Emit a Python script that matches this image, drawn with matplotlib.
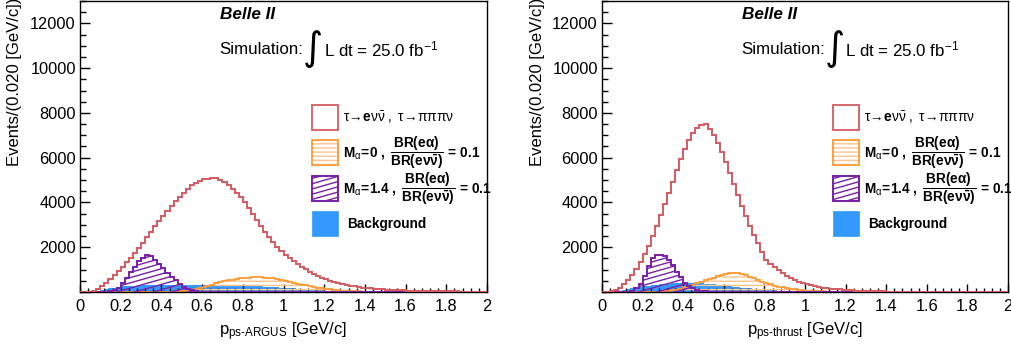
import numpy as np
import matplotlib
matplotlib.use('Agg')
import matplotlib.pyplot as plt
from matplotlib.patches import Rectangle
from matplotlib.ticker import MultipleLocator, FuncFormatter

plt.rcParams['font.family'] = ['Liberation Sans', 'DejaVu Sans']
plt.rcParams['mathtext.fontset'] = 'custom'
plt.rcParams['mathtext.rm'] = 'Liberation Sans'
plt.rcParams['mathtext.it'] = 'Liberation Sans:italic'
plt.rcParams['mathtext.bf'] = 'Liberation Sans:bold'
plt.rcParams['hatch.linewidth'] = 1.0

# бины по 0.020 GeV/c от 0 до 2
edges = np.linspace(0, 2, 101)

# левая панель: p_ps-ARGUS
sig_argus = [0, 5, 20, 60, 150, 270, 420, 580, 750, 930,
             1120, 1320, 1530, 1750, 1980, 2210, 2450, 2690, 2930, 3170,
             3400, 3620, 3840, 4050, 4250, 4440, 4610, 4760, 4880, 4970,
             5030, 5070, 5100, 5080, 5020, 4920, 4780, 4620, 4440, 4230,
             4000, 3760, 3500, 3230, 2960, 2700, 2450, 2220, 2000, 1810,
             1650, 1500, 1370, 1250, 1130, 1010, 900, 800, 710, 630,
             560, 500, 440, 395, 355, 315, 280, 250, 225, 200,
             180, 160, 145, 130, 118, 106, 95, 85, 76, 68,
             62, 57, 52, 48, 44, 40, 37, 34, 31, 29,
             27, 25, 23, 21, 20, 18, 17, 16, 15, 14]
a0_argus = [0, 0, 0, 0, 0, 0, 0, 0, 0, 0,
            0, 0, 0, 0, 0, 0, 0, 0, 2, 4,
            6, 8, 10, 20, 35, 55, 80, 110, 145, 185,
            230, 280, 330, 380, 430, 475, 515, 550, 580, 605,
            625, 640, 650, 655, 655, 645, 630, 605, 575, 540,
            500, 460, 420, 375, 335, 295, 255, 220, 190, 160,
            135, 112, 93, 77, 63, 52, 42, 34, 27, 22,
            17, 13, 10, 8, 6, 5, 4, 3, 2, 2,
            0, 0, 0, 0, 0, 0, 0, 0, 0, 0,
            0, 0, 0, 0, 0, 0, 0, 0, 0, 0]
a14_argus = [0, 0, 0, 0, 0, 0, 10, 30, 80, 180,
             380, 620, 880, 1130, 1370, 1540, 1650, 1620, 1450, 1250,
             1050, 860, 680, 520, 370, 230, 130, 70, 40, 20,
             10, 6, 4, 3, 2, 1, 0, 0, 0, 0,
             0, 0, 0, 0, 0, 0, 0, 0, 0, 0,
             0, 0, 0, 0, 0, 0, 0, 0, 0, 0,
             0, 0, 0, 0, 0, 0, 0, 0, 0, 0,
             0, 0, 0, 0, 0, 0, 0, 0, 0, 0,
             0, 0, 0, 0, 0, 0, 0, 0, 0, 0,
             0, 0, 0, 0, 0, 0, 0, 0, 0, 0]
bkg_argus = [0, 0, 5, 20, 50, 90, 130, 170, 200, 230,
             250, 265, 280, 290, 300, 305, 310, 312, 315, 315,
             315, 315, 315, 315, 315, 315, 318, 320, 320, 320,
             320, 318, 315, 312, 310, 308, 305, 300, 295, 290,
             285, 278, 270, 262, 252, 242, 232, 220, 208, 195,
             182, 170, 158, 145, 132, 120, 108, 96, 85, 75,
             66, 57, 50, 43, 37, 32, 27, 23, 20, 17,
             14, 12, 10, 8, 7, 6, 5, 4, 3, 3,
             2, 2, 2, 2, 2, 2, 2, 2, 2, 2,
             2, 2, 2, 1, 1, 1, 1, 1, 1, 1]

# правая панель: p_ps-thrust
sig_thrust = [0, 10, 40, 100, 200, 340, 520, 750, 1020, 1330,
              1680, 2070, 2490, 2940, 3420, 3910, 4420, 4920, 5450, 5950,
              6400, 6800, 7100, 7330, 7480, 7500, 7300, 7000, 6650, 6250,
              5800, 5320, 4830, 4330, 3850, 3380, 2950, 2560, 2200, 1800,
              1450, 1250, 1100, 980, 830, 710, 610, 530, 460, 400,
              350, 305, 265, 230, 200, 175, 150, 130, 112, 97,
              84, 73, 63, 55, 48, 42, 37, 32, 28, 25,
              22, 20, 18, 16, 15, 14, 13, 12, 11, 10,
              9, 9, 8, 8, 8, 7, 7, 7, 6, 6,
              6, 6, 5, 5, 5, 5, 5, 4, 4, 4]
a0_thrust = [0, 0, 0, 0, 0, 0, 0, 0, 0, 0,
             1, 2, 3, 5, 10, 25, 45, 75, 110, 155,
             205, 260, 320, 385, 450, 515, 580, 640, 700, 755,
             800, 835, 860, 850, 800, 750, 690, 620, 550, 460,
             400, 345, 290, 245, 205, 170, 140, 115, 95, 78,
             62, 50, 40, 31, 24, 18, 14, 10, 8, 6,
             4, 3, 2, 1, 1, 0, 0, 0, 0, 0,
             0, 0, 0, 0, 0, 0, 0, 0, 0, 0,
             0, 0, 0, 0, 0, 0, 0, 0, 0, 0,
             0, 0, 0, 0, 0, 0, 0, 0, 0, 0]
a14_thrust = [0, 0, 0, 0, 0, 0, 20, 60, 160, 350,
              700, 1150, 1500, 1640, 1660, 1620, 1450, 1200, 900, 680,
              420, 260, 160, 90, 50, 30, 15, 8, 4, 2,
              0, 0, 0, 0, 0, 0, 0, 0, 0, 0,
              0, 0, 0, 0, 0, 0, 0, 0, 0, 0,
              0, 0, 0, 0, 0, 0, 0, 0, 0, 0,
              0, 0, 0, 0, 0, 0, 0, 0, 0, 0,
              0, 0, 0, 0, 0, 0, 0, 0, 0, 0,
              0, 0, 0, 0, 0, 0, 0, 0, 0, 0,
              0, 0, 0, 0, 0, 0, 0, 0, 0, 0]
bkg_thrust = [0, 0, 10, 30, 60, 100, 140, 180, 210, 240,
              265, 290, 310, 330, 345, 360, 375, 385, 395, 400,
              405, 405, 400, 395, 385, 370, 355, 340, 320, 300,
              280, 260, 240, 220, 200, 180, 162, 145, 128, 112,
              98, 85, 73, 62, 53, 45, 38, 32, 27, 22,
              18, 15, 12, 10, 8, 6, 5, 4, 3, 3,
              2, 2, 2, 2, 2, 2, 2, 2, 2, 2,
              2, 2, 2, 2, 2, 1, 1, 1, 1, 1,
              1, 1, 1, 1, 1, 1, 1, 1, 1, 1,
              1, 1, 1, 1, 1, 1, 1, 1, 1, 1]

RED = '#d65a60'
ORANGE = '#ff9933'
ORANGE_LIGHT = '#ffc48c'
PURPLE = '#7a1fa8'
BLUE = '#3399ff'

leg_labels = [
    r'$\mathrm{\tau\!\rightarrow\!}\mathbf{e}\mathrm{\nu\bar{\nu}}\ ,\ \mathrm{\tau\!\rightarrow\!\pi\pi\pi\nu}$',
    r'$\mathbf{M}_{\mathrm{\alpha}}\!\mathbf{=}\!\mathbf{0\ ,\ }\dfrac{\mathbf{BR(e\alpha)}}{\mathbf{BR(e\nu\bar{\nu})}}\mathbf{\,=\,0.1}$',
    r'$\mathbf{M}_{\mathrm{\alpha}}\!\mathbf{=}\!\mathbf{1.4\ ,\ }\dfrac{\mathbf{BR(e\alpha)}}{\mathbf{BR(e\nu\bar{\nu})}}\mathbf{\,=\,0.1}$',
    'Background',
]


# пологая штриховка как в ROOT (стиль 3354), обрезанная по форме patch
def shallow_hatch(ax, patch, color, zorder):
    for off in np.arange(-0.45, 1.0, 0.018):
        ln, = ax.plot([0, 1], [off, off + 0.4], transform=ax.transAxes,
                      color=color, lw=1.0, zorder=zorder, clip_on=True)
        ln.set_clip_path(patch)


def draw_panel(ax, sig, a0, a14, bkg, xlab):
    ax.stairs(bkg, edges, fill=True, color=BLUE, lw=0, zorder=1)
    ax.stairs(a0, edges, fill=True, facecolor='none', edgecolor=ORANGE_LIGHT,
              hatch='----', lw=0, zorder=2)
    ax.stairs(a0, edges, color=ORANGE, lw=1.3, zorder=2.1)
    p14 = ax.stairs(a14, edges, fill=True, facecolor='none', edgecolor='none',
                    lw=0, zorder=3)
    shallow_hatch(ax, p14, PURPLE, 3)
    ax.stairs(a14, edges, color=PURPLE, lw=1.4, zorder=3.1)
    ax.stairs(sig, edges, color=RED, lw=1.4, zorder=4)

    ax.set_xlim(0, 2)
    ax.set_ylim(0, 13000)
    ax.xaxis.set_major_locator(MultipleLocator(0.2))
    ax.xaxis.set_minor_locator(MultipleLocator(0.04))
    ax.yaxis.set_major_locator(MultipleLocator(2000))
    ax.yaxis.set_minor_locator(MultipleLocator(500))
    ax.xaxis.set_major_formatter(FuncFormatter(lambda v, p: '%g' % v))
    ax.yaxis.set_major_formatter(FuncFormatter(lambda v, p: '' if v == 0 else '%d' % v))
    ax.tick_params(which='both', direction='in', top=False, right=False,
                   labelsize=11.8, width=1)
    ax.tick_params(axis='x', which='major', length=6, pad=5)
    ax.tick_params(axis='x', which='minor', length=3)
    ax.tick_params(axis='y', which='major', length=7, pad=3)
    ax.tick_params(axis='y', which='minor', length=4)
    for s in ax.spines.values():
        s.set_linewidth(1)

    ax.text(-0.16, 1.01, 'Events/(0.020 [GeV/c])', transform=ax.transAxes,
            rotation=90, ha='center', va='top', fontsize=12)
    ax.text(0.5, -0.135, xlab, transform=ax.transAxes, ha='center', va='center',
            fontsize=12)

    ax.text(0.344, 0.955, 'Belle II', transform=ax.transAxes, ha='left',
            va='center', fontsize=12.3, fontweight='bold', fontstyle='italic')
    ax.text(0.342, 0.832, 'Simulation:', transform=ax.transAxes, ha='left',
            va='center', fontsize=12.2)
    ax.text(0.573, 0.835, '\u222b', transform=ax.transAxes, ha='center',
            va='center', fontsize=28, family=['DejaVu Sans'])
    ax.text(0.599, 0.832, r'L dt = 25.0 fb$^{\mathregular{-1}}$',
            transform=ax.transAxes, ha='left', va='center', fontsize=12.2)

    # легенда
    bx, bw, bh = 0.570, 0.063, 0.086
    ys = [0.598, 0.478, 0.356, 0.235]
    ax.add_patch(Rectangle((bx, ys[0] - bh / 2), bw, bh, transform=ax.transAxes,
                           facecolor='white', edgecolor=RED, lw=1.3, clip_on=False))
    ax.add_patch(Rectangle((bx, ys[1] - bh / 2), bw, bh, transform=ax.transAxes,
                           facecolor='none', edgecolor=ORANGE_LIGHT, hatch='----',
                           lw=0, clip_on=False))
    ax.add_patch(Rectangle((bx, ys[1] - bh / 2), bw, bh, transform=ax.transAxes,
                           facecolor='none', edgecolor=ORANGE, lw=1.3, clip_on=False))
    r14 = Rectangle((bx, ys[2] - bh / 2), bw, bh, transform=ax.transAxes,
                    facecolor='none', edgecolor=PURPLE, lw=1.4, clip_on=False,
                    zorder=5)
    ax.add_patch(r14)
    shallow_hatch(ax, r14, PURPLE, 5)
    ax.add_patch(Rectangle((bx, ys[3] - bh / 2), bw, bh, transform=ax.transAxes,
                           facecolor=BLUE, edgecolor=BLUE, lw=0.5, clip_on=False))
    ax.text(0.646, ys[0], leg_labels[0], transform=ax.transAxes, ha='left',
            va='center', fontsize=9.8)
    ax.text(0.646, ys[1], leg_labels[1], transform=ax.transAxes, ha='left',
            va='center', fontsize=9.8)
    ax.text(0.646, ys[2], leg_labels[2], transform=ax.transAxes, ha='left',
            va='center', fontsize=9.8)
    ax.text(0.656, ys[3], leg_labels[3], transform=ax.transAxes, ha='left',
            va='center', fontsize=9.8, fontweight='bold')


fig = plt.figure(figsize=(10.11, 3.54), dpi=100)
ax1 = fig.add_axes([80 / 1011, 62 / 354, 407 / 1011, 291 / 354])
ax2 = fig.add_axes([602 / 1011, 62 / 354, 406 / 1011, 291 / 354])

draw_panel(ax1, sig_argus, a0_argus, a14_argus, bkg_argus,
           'p$_{\\mathregular{ps\u2010ARGUS}}$ [GeV/c]')
draw_panel(ax2, sig_thrust, a0_thrust, a14_thrust, bkg_thrust,
           'p$_{\\mathregular{ps\u2010thrust}}$ [GeV/c]')

fig.savefig('out.png', dpi=100)
